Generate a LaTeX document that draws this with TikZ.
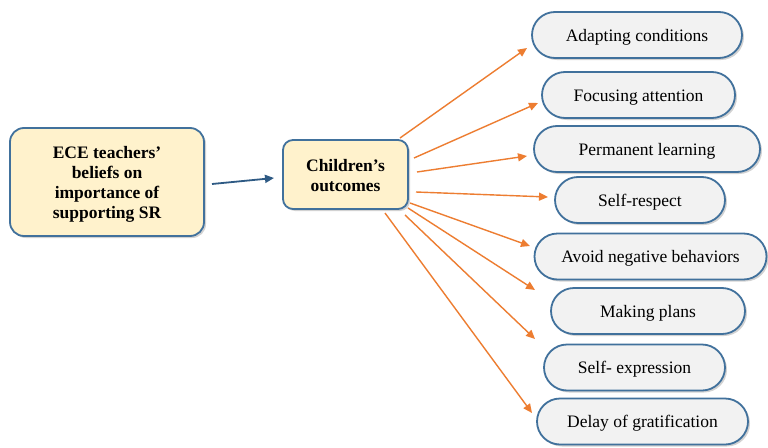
\documentclass[tikz,border=0pt]{standalone}
\usepackage{fontspec}
\setmainfont{Liberation Serif}
\usetikzlibrary{arrows.meta,shapes.misc,shadows}
\definecolor{bordblue}{HTML}{41719C}
\definecolor{boxyel}{HTML}{FFF2CC}
\definecolor{ovalgray}{HTML}{F2F2F2}
\definecolor{arrorange}{HTML}{ED7D31}
\definecolor{arrblue}{HTML}{2E5A84}
\tikzset{
  yelbox/.style={draw=bordblue, line width=1.8pt, fill=boxyel, rounded corners=14pt,
    font=\bfseries\fontsize{17.5}{20}\selectfont, align=center, inner sep=0pt,
    drop shadow={shadow xshift=2pt, shadow yshift=-2pt, opacity=0.35, fill=gray}},
  outcome/.style={draw=bordblue, line width=1.8pt, fill=ovalgray, rounded rectangle,
    font=\fontsize{17.5}{20}\selectfont, inner sep=0pt, minimum height=46pt,
    text height=14pt, text depth=2pt,
    drop shadow={shadow xshift=2pt, shadow yshift=-2pt, opacity=0.35, fill=gray}},
  orarrow/.style={draw=arrorange, line width=1.4pt, -{Triangle[length=9pt,width=8pt]}},
  blarrow/.style={draw=arrblue, line width=1.8pt, -{Triangle[length=9pt,width=8pt]}}
}
\begin{document}
\begin{tikzpicture}[x=1pt,y=-1pt]
\useasboundingbox[fill=white] (0,0) rectangle (768,447);
\node[yelbox, minimum width=194pt, minimum height=108pt] (ece) at (107,182)
  {\raisebox{-2.5pt}[\height][\depth]{\begin{tabular}{@{}c@{}}ECE teachers'\\beliefs on\\importance of\\supporting SR\end{tabular}}};
\node[yelbox, minimum width=125pt, minimum height=69pt, rounded corners=10pt] (co) at (345.5,174.5)
  {\raisebox{-2.5pt}[\height][\depth]{\begin{tabular}{@{}c@{}}Children's\\outcomes\end{tabular}}};
\node[outcome, minimum width=210pt] (o1) at (637,35) {Adapting conditions};
\node[outcome, minimum width=193pt] (o2) at (638.5,95) {Focusing attention};
\node[outcome, minimum width=226pt] (o3) at (647,149) {Permanent learning};
\node[outcome, minimum width=170pt] (o4) at (640,200) {Self-respect};
\node[outcome, minimum width=232pt] (o5) at (650.5,256.5) {Avoid negative behaviors};
\node[outcome, minimum width=194pt] (o6) at (648,311) {Making plans};
\node[outcome, minimum width=181pt] (o7) at (634.5,367.5) {Self- expression};
\node[outcome, minimum width=211pt] (o8) at (642.5,421.5) {Delay of gratification};
\coordinate (b0) at (212,184);
\coordinate (b1) at (274,178);
\draw[blarrow] (b0) -- (b1);
\coordinate (s1) at (400,138); \coordinate (e1) at (527,48);
\coordinate (s2) at (414,158); \coordinate (e2) at (538,103);
\coordinate (s3) at (417,172); \coordinate (e3) at (527,156);
\coordinate (s4) at (416,192); \coordinate (e4) at (548,197);
\coordinate (s5) at (410,203); \coordinate (e5) at (530,246);
\coordinate (s6) at (408,208); \coordinate (e6) at (535,290);
\coordinate (s7) at (405,215); \coordinate (e7) at (535,339);
\coordinate (s8) at (385,213); \coordinate (e8) at (532,413);
\foreach \i in {1,...,8} {\draw[orarrow] (s\i) -- (e\i);}
\end{tikzpicture}
\end{document}
